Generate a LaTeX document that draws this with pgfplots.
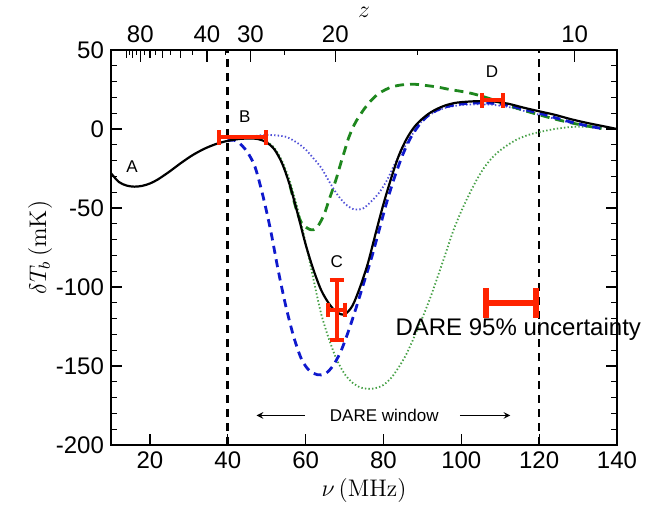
\documentclass[border=0pt]{standalone}
\usepackage{fontspec}
\usepackage{pgfplots}
\pgfplotsset{compat=1.18}
\newfontfamily\arial{Liberation Sans}
\definecolor{bdash}{RGB}{15,25,205}
\definecolor{gdash}{RGB}{30,135,30}
\definecolor{bdot}{RGB}{80,80,215}
\definecolor{gdot}{RGB}{70,160,70}
\definecolor{ebar}{RGB}{255,35,0}

\pgfplotstableread{
nu T
10 -28
12 -33.5
14 -35.8
16 -36.5
18 -36
20 -34.5
22 -32
25 -27
28 -21.5
31 -16.5
34 -12.5
37 -9.5
40 -7.5
43 -6.3
46 -6
48 -6.5
50 -8.5
52 -13
54 -22
56 -36
58 -54
60 -73
62 -89
64 -102
66 -110.5
68 -116
70 -117.3
72 -112
74 -100
76 -85
78 -66
80 -47.5
82 -31
84 -16.5
86 -6
88 1.5
90 6.5
92 10.3
94 13
96 15
98 16.3
100 17
104 17.6
108 17.5
112 16
116 13.5
120 11.2
124 9
128 6.3
132 4
136 2
140 0
}\black

\pgfplotstableread{
nu T
40 -7.5
41.5 -7
43 -9
45 -14.5
47 -24
49 -42
51 -64
53 -90
55 -113
57 -132
59 -146
61 -153
63 -155.5
65 -155
67 -150
69 -141
71 -128
73 -113
75 -97
77 -81
79 -63
81 -45
83 -29.5
85 -16
87 -5.5
89 2
91 7.5
93 11
96 14
100 15.8
104 16.5
108 16.3
112 15
116 12.5
120 10
124 7.2
128 4.5
132 2.2
136 0.3
}\bluedash

\pgfplotstableread{
nu T
40 -7.5
43 -6.3
46 -5
49 -3.8
52 -4
55 -5
58 -9
60 -13
62 -18.5
64 -24.5
66 -33
68 -41
70 -47
72 -50.5
73.5 -51
75 -50
77 -45.5
79 -40
81 -32
83 -21.5
85 -13
87 -5
89 2.5
91 7.5
93 10.5
96 13.5
100 15.2
104 15.6
108 15.3
112 14
116 11.5
120 9
124 6.5
128 4
132 2
136 0.3
}\bluedot

\pgfplotstableread{
nu T
56 -36
57 -45.5
58 -54
59 -59.5
60 -62
61 -63.5
62 -63.8
63 -62
64 -58
65 -52.5
66 -45
67 -38
68 -30.5
69 -22
70 -14
71 -6
72 0
73 5
75 12.5
77 18.5
79 22.8
82 26.5
85 28
88 28.3
91 27.5
94 26.5
97 25
100 23.8
103 22.3
106 20.2
109 17.8
112 15
116 11.8
120 9
124 6.3
128 4
132 2
136 0.3
}\greendash

\pgfplotstableread{
nu T
50 -8
52 -12
54 -20.5
56 -33.5
58 -51
60 -72
62 -95
64 -117
66 -133
68 -146
70 -155
72 -160.5
74 -163.5
76 -164.5
78 -164
80 -162
82 -157.5
84 -150.5
86 -142
88 -131
90 -119.5
92 -107
94 -93
96 -78.5
98 -64
100 -52
102 -41.5
104 -32
106 -24
108 -18
110 -13.5
112 -10
114 -7
116 -4.8
118 -3.2
120 -2
124 0
128 1.2
132 1.5
136 0.8
}\greendot

\pgfplotsset{
  errsmall/.style={ebar, mark=none, forget plot,
    error bars/.cd, x dir=both, x explicit, y dir=both, y explicit,
    error bar style={line width=2pt, draw=ebar},
    error mark options={line width=2pt, mark size=3.6pt, draw=ebar, rotate=90}},
  errbig/.style={ebar, mark=none, forget plot,
    error bars/.cd, x dir=both, x explicit,
    error bar style={line width=3pt, draw=ebar},
    error mark options={line width=3pt, mark size=7.5pt, draw=ebar, rotate=90}},
}

\begin{document}
\begin{tikzpicture}
\begin{axis}[
  scale only axis, width=253pt, height=197.5pt,
  xmin=10, xmax=140, ymin=-200, ymax=50,
  xtick={20,40,...,140}, ytick={-200,-150,...,50},
  minor y tick num=4,
  xtick pos=bottom, ytick pos=both,
  tick align=inside,
  major tick length=5.5pt, minor tick length=3pt,
  tick style={black, line width=0.6pt},
  axis line style={line width=0.9pt},
  ticklabel style={font=\arial\fontsize{12}{14}\selectfont},
  /pgf/number format/assume math mode=true,
  xlabel={$\nu\,(\mathrm{MHz})$}, ylabel={$\delta T_b\,(\mathrm{mK})$},
  label style={font=\fontsize{12}{14}\selectfont},
  xlabel style={at={(axis description cs:0.5,-0.114)}, anchor=center},
  ylabel style={at={(axis description cs:-0.14,0.5)}, anchor=center},
  clip=false,
]
\coordinate (SW) at (rel axis cs:0,0);
% vertical dashed lines
\addplot[black, line width=1.3pt, dash pattern=on 4pt off 3pt] coordinates {(40,-200) (40,50)};
\addplot[black, line width=1.3pt, dash pattern=on 4pt off 3pt] coordinates {(120,-200) (120,50)};
% curves
\addplot[gdot, line width=0.9pt, dash pattern=on 0.7pt off 1.1pt, smooth] table[x=nu,y=T] {\greendot};
\addplot[bdot, line width=0.9pt, dash pattern=on 0.7pt off 1.1pt, smooth] table[x=nu,y=T] {\bluedot};
\addplot[gdash, line width=1.4pt, dash pattern=on 4.5pt off 3pt, smooth] table[x=nu,y=T] {\greendash};
\addplot[bdash, line width=1.4pt, dash pattern=on 4pt off 2.8pt, smooth] table[x=nu,y=T] {\bluedash};
\addplot[black, line width=1.1pt, smooth] table[x=nu,y=T] {\black};
% error bars (B, C, D)
\addplot[errsmall] coordinates {(43.8,-5.3) +- (6,0)};
\addplot[errsmall] coordinates {(108,18.1) +- (2.7,0)};
\addplot[errsmall] coordinates {(68,-114.4) +- (2.2,19)};
% DARE 95% uncertainty
\addplot[errbig] coordinates {(112.85,-110) +- (6.45,0)};
% labels
\node[font=\arial\fontsize{8.5}{10}\selectfont] at (axis cs:15.4,-23.7) {A};
\node[font=\arial\fontsize{8.5}{10}\selectfont] at (axis cs:44.4,8) {B};
\node[font=\arial\fontsize{8.5}{10}\selectfont] at (axis cs:68,-84) {C};
\node[font=\arial\fontsize{8.5}{10}\selectfont] at (axis cs:107.9,36.5) {D};
\node[font=\arial\fontsize{12}{14}\selectfont, anchor=west, inner sep=0pt] at (axis cs:83,-127) {DARE 95\% uncertainty};
\node[font=\arial\fontsize{8.5}{10}\selectfont] at (axis cs:80.2,-181.3) {DARE window};
\draw[-stealth, line width=0.5pt] (axis cs:59.8,-181.3) -- (axis cs:47.4,-181.3);
\draw[-stealth, line width=0.5pt] (axis cs:99.6,-181.3) -- (axis cs:112.6,-181.3);
\end{axis}
\begin{axis}[
  scale only axis, width=253pt, height=197.5pt,
  xmin=10, xmax=140, ymin=-200, ymax=50,
  axis x line*=top, axis y line=none,
  xtick={17.536,34.644,45.819,67.638,129.127},
  xticklabels={80,40,30,20,10},
  extra x ticks={14.063,15.609,20.006,23.285,27.851},
  extra x tick labels={{},{},{},{},{}},
  extra x tick style={major tick length=4pt},
  minor xtick={14.796,16.516,18.689,21.521,25.364,30.878,39.456,54.631,88.775},
  tick align=inside,
  major tick length=6pt, minor tick length=2.5pt,
  tick style={black, line width=0.6pt},
  axis line style={line width=0.9pt},
  ticklabel style={font=\arial\fontsize{12}{14}\selectfont},
  xlabel={$z$},
  label style={font=\fontsize{12}{14}\selectfont},
  xlabel style={at={(axis description cs:0.5,1.095)}, anchor=center},
]
\end{axis}
\pgfresetboundingbox
\path (SW) ++(-55.5pt,-30.5pt) rectangle ++(327pt,253pt);
\end{tikzpicture}
\end{document}
